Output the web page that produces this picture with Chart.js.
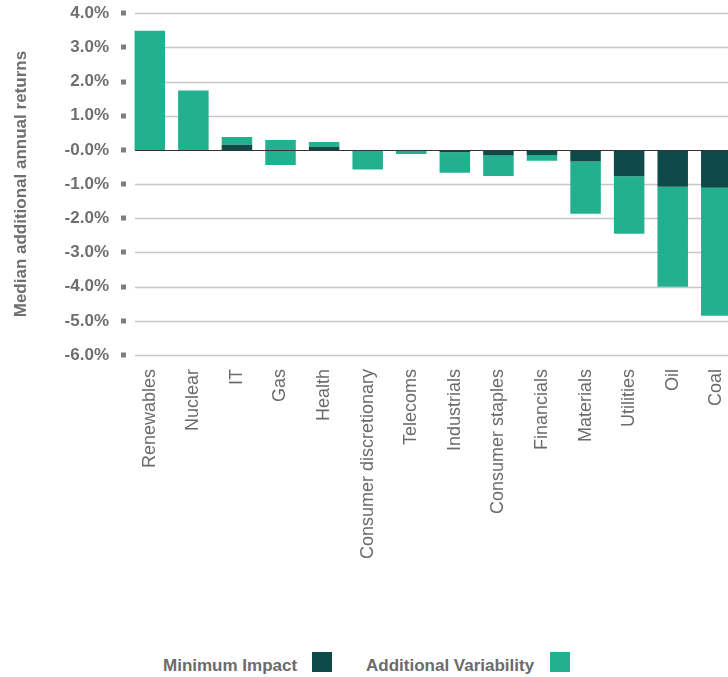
<!DOCTYPE html>
<html lang="en">
<head>
    <meta charset="UTF-8">
    <title>Median additional annual returns by sector</title>
    <script src="https://cdn.jsdelivr.net/npm/chart.js"></script>
    <style>
        body { margin: 0; background: #fff; overflow: hidden; font-family: "Liberation Sans", Arial, sans-serif; }
        #wrap { position: relative; top: -8px; width: 744px; height: 608px; }
        .legend-text { position: absolute; top: 656px; font-size: 17px; font-weight: bold; color: #6b6b6b; line-height: 20px; white-space: nowrap; }
        .legend-box { position: absolute; top: 652px; width: 20px; height: 20px; }
    </style>
</head>
<body>
    <div id="wrap"><canvas id="chart"></canvas></div>

    <span class="legend-text" style="left:163px">Minimum Impact</span>
    <span class="legend-box" style="left:312px;background:#0f4a48"></span>
    <span class="legend-text" style="left:366px">Additional Variability</span>
    <span class="legend-box" style="left:550px;background:#22b08e"></span>

    <script>
        const sectors = ['Renewables', 'Nuclear', 'IT', 'Gas', 'Health', 'Consumer discretionary', 'Telecoms',
            'Industrials', 'Consumer staples', 'Financials', 'Materials', 'Utilities', 'Oil', 'Coal'];

        // minimum impact (from 0) and the additional variability range on top of it, in %
        const minImpact = [0, 0, 0.15, 0, 0.09, 0, 0, -0.07, -0.16, -0.15, -0.34, -0.77, -1.08, -1.11];
        const varFrom   = [0, 0, 0.15, -0.44, 0.09, 0, 0, -0.07, -0.16, -0.15, -0.34, -0.77, -1.08, -1.11];
        const varTo     = [3.49, 1.74, 0.38, 0.29, 0.23, -0.57, -0.12, -0.67, -0.76, -0.32, -1.87, -2.45, -4.0, -4.85];

        const yTicks = [4, 3, 2, 1, 0, -1, -2, -3, -4, -5, -6];
        const yTickLabels = ['4.0%', '3.0%', '2.0%', '1.0%', '-0.0%', '-1.0%', '-2.0%', '-3.0%', '-4.0%', '-5.0%', '-6.0%'];

        const DARK = '#0f4a48';
        const TEAL = '#22b08e';
        const FONT = '"Liberation Sans", Arial, sans-serif';

        // grid lines that start a little right of the axis, plus the small square tick marks
        const gridPlugin = {
            id: 'customGrid',
            beforeDatasetsDraw(chart) {
                const { ctx, chartArea, scales } = chart;
                const y = scales.y;
                ctx.save();
                y.ticks.forEach((t, i) => {
                    const py = Math.round(y.getPixelForTick(i)) + 0.5;
                    ctx.fillStyle = '#7d7d7d';
                    ctx.fillRect(chartArea.left - 7, py - 3, 5, 5);
                    if (t.value === 0) return;
                    ctx.strokeStyle = '#c6c6c6';
                    ctx.lineWidth = 1.5;
                    ctx.beginPath();
                    ctx.moveTo(chartArea.left + 7, py);
                    ctx.lineTo(chartArea.right, py);
                    ctx.stroke();
                });
                ctx.restore();
            },
            afterDatasetsDraw(chart) {
                const { ctx, chartArea, scales } = chart;
                const py = Math.round(scales.y.getPixelForValue(0)) + 0.5;
                ctx.save();
                ctx.strokeStyle = '#333';
                ctx.lineWidth = 1.2;
                ctx.beginPath();
                ctx.moveTo(chartArea.left + 7, py);
                ctx.lineTo(chartArea.right, py);
                ctx.stroke();
                ctx.restore();
            }
        };

        new Chart(document.getElementById('chart'), {
            type: 'bar',
            data: {
                labels: sectors,
                datasets: [
                    {
                        label: 'Minimum Impact',
                        data: minImpact.map(v => [0, v]),
                        backgroundColor: DARK,
                        barPercentage: 0.7,
                        categoryPercentage: 1,
                        order: 1
                    },
                    {
                        label: 'Additional Variability',
                        data: varFrom.map((v, i) => [v, varTo[i]]),
                        backgroundColor: TEAL,
                        barPercentage: 0.7,
                        categoryPercentage: 1,
                        order: 2
                    }
                ]
            },
            options: {
                responsive: true,
                maintainAspectRatio: false,
                animation: false,
                layout: { padding: { top: 3, right: 3, left: 0, bottom: 0 } },
                plugins: {
                    legend: { display: false },
                    tooltip: { enabled: false }
                },
                scales: {
                    x: {
                        stacked: true,
                        grid: { display: false },
                        border: { display: false },
                        ticks: {
                            maxRotation: 90,
                            minRotation: 90,
                            padding: 6,
                            color: '#6b6b6b',
                            font: { family: FONT, size: 18 }
                        },
                        afterFit(scale) { scale.height = 245; }
                    },
                    y: {
                        stacked: false,
                        min: -6,
                        max: 4,
                        grid: { display: false },
                        border: { display: false },
                        afterBuildTicks(scale) { scale.ticks = yTicks.map(v => ({ value: v })); },
                        ticks: {
                            padding: 11,
                            color: '#6f6f6f',
                            font: { family: FONT, size: 17, weight: 'bold' },
                            callback: (v) => yTickLabels[yTicks.indexOf(v)]
                        },
                        title: {
                            display: true,
                            text: 'Median additional annual returns',
                            color: '#6f6f6f',
                            padding: { top: 11, bottom: 0 },
                            font: { family: FONT, size: 17, weight: 'bold' }
                        },
                        afterFit(scale) { scale.width = 128; }
                    }
                }
            },
            plugins: [gridPlugin]
        });
    </script>
</body>
</html>
